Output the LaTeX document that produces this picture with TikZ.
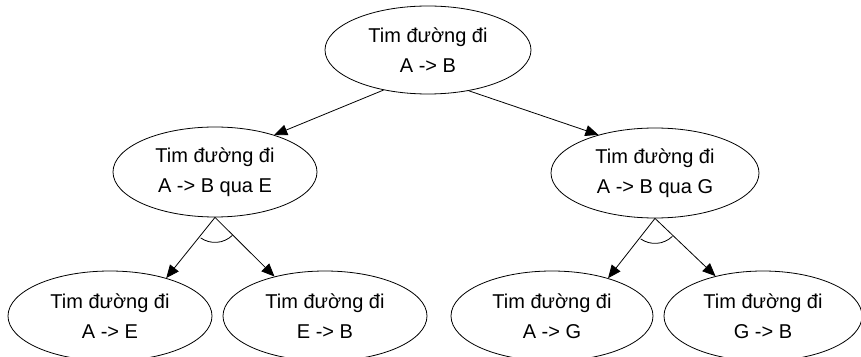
\documentclass[tikz,border=0pt]{standalone}
\usepackage{fontspec}
\setmainfont{Liberation Sans}
\usetikzlibrary{shapes.geometric,arrows.meta}
\begin{document}
\begin{tikzpicture}[x=1pt,y=1pt,
  goal/.style={ellipse,draw,line width=0.8pt,inner sep=0pt,
    minimum width=204pt,minimum height=90pt,align=center,
    font=\fontsize{20pt}{30pt}\selectfont},
  link/.style={line width=0.8pt,-{Triangle[length=13pt,width=11pt]}},
  andarc/.style={line width=0.8pt}]
\clip (0,0) rectangle (861,356);
\useasboundingbox (0,0) rectangle (861,356);

% goal tree
\node[goal,minimum width=206pt,minimum height=88pt] (root) at (428,306) {Tim đường đi\\A -> B};
\node[goal] (viaE) at (215,184) {Tim đường đi\\A -> B qua E};
\node[goal,minimum width=208pt] (viaG) at (655,183) {Tim đường đi\\A -> B qua G};
\node[goal] (AE) at (110,40) {Tim đường đi\\A -> E};
\node[goal] (EB) at (325,40) {Tim đường đi\\E -> B};
\node[goal,minimum width=202pt] (AG) at (552,40) {Tim đường đi\\A -> G};
\node[goal,minimum width=198pt] (GB) at (763,40) {Tim đường đi\\G -> B};

% OR branches
\draw[link] (root.222) -- (viaE.32);
\draw[link] (root.315) -- (viaG.146);

% AND branches with arc
\draw[link] (viaE.south) -- (AE.34);
\draw[link] (viaE.south) -- (EB.142);
\draw[andarc] (viaE.south) ++(235:25) arc[start angle=235,end angle=314,radius=25];

\draw[link] (viaG.south) -- (AG.34);
\draw[link] (viaG.south) -- (GB.140);
\draw[andarc] (viaG.south) ++(235:25) arc[start angle=235,end angle=314,radius=25];
\end{tikzpicture}
\end{document}
